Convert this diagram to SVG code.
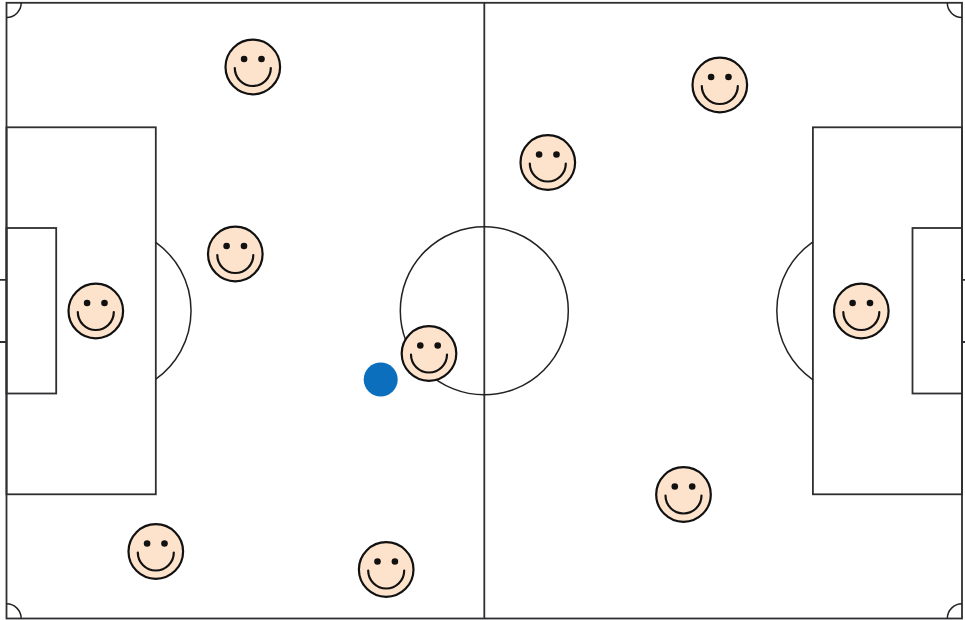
<svg xmlns="http://www.w3.org/2000/svg" width="965" height="620" viewBox="0 0 965 620">
<style>
.l{fill:none;stroke:#2f2f32;stroke-width:1.8}
.t{fill:none;stroke:#222;stroke-width:1.5}
.f{fill:#fde3cb;stroke:#111;stroke-width:2.2}
.m{fill:none;stroke:#111;stroke-width:2.2;stroke-linecap:round}
.e{fill:#111}
</style>
<defs>
<g id="smile">
<circle class="f" r="27.300"/>
<circle class="e" cx="-8.700" cy="-8" r="3.300"/>
<circle class="e" cx="8.700" cy="-8" r="3.300"/>
<path class="m" d="M-18 1A18 18 0 0 0 18 1"/>
</g>
</defs>
<g id="pitch">
<rect class="l" x="6.500" y="2.800" width="955.500" height="615.700"/>
<path class="l" d="M484.300 2.800V618.500"/>
<rect class="l" x="6.500" y="127.300" width="149.300" height="367"/>
<rect class="l" x="6.500" y="228" width="49.700" height="165.500"/>
<rect class="l" x="812.900" y="127.300" width="149.100" height="367"/>
<rect class="l" x="912.500" y="228" width="49.500" height="165.500"/>
<path class="l" d="M0 279.800H6.500M0 342H6.500M962 279.800H965M962 342H965"/>
<circle class="t" cx="484.300" cy="310.800" r="84"/>
<path class="t" d="M155.800 242.400A84 84 0 0 1 155.800 379.200M812.900 241.800A84 84 0 0 0 812.900 379.800"/>
<path class="t" d="M6.500 17.500A14.700 14.700 0 0 0 21.200 2.800M947.300 2.800A14.700 14.700 0 0 0 962 17.500M6.500 603.800A14.700 14.700 0 0 1 21.200 618.500M947.300 618.500A14.700 14.700 0 0 1 962 603.800"/>
</g>
<g id="ball"><circle cx="380.700" cy="379.500" r="17" fill="#0b6fbd"/></g>
<g id="p1"><use href="#smile" x="252.800" y="67"/></g>
<g id="p2"><use href="#smile" x="235.300" y="254"/></g>
<g id="p3"><use href="#smile" x="95.800" y="311"/></g>
<g id="p4"><use href="#smile" x="155.800" y="551.500"/></g>
<g id="p5"><use href="#smile" x="386.200" y="569.500"/></g>
<g id="p6"><use href="#smile" x="429" y="353.500"/></g>
<g id="p7"><use href="#smile" x="547.800" y="162.500"/></g>
<g id="p8"><use href="#smile" x="719.800" y="85"/></g>
<g id="p9"><use href="#smile" x="683.500" y="494.500"/></g>
<g id="p10"><use href="#smile" x="861.300" y="311"/></g>
</svg>
